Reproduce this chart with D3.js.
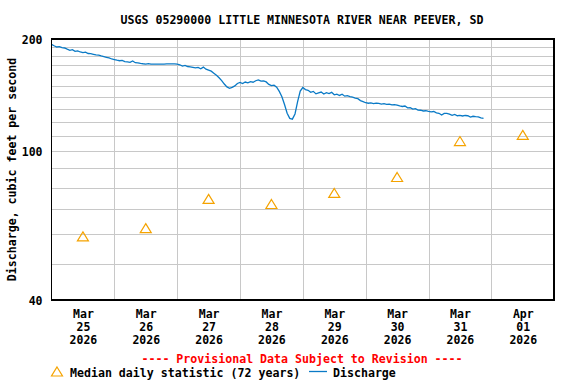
<!DOCTYPE html>
<html>
<head>
<meta charset="utf-8">
<script src="https://cdn.jsdelivr.net/npm/d3@7"></script>
<style>
  html, body { margin: 0; padding: 0; background: #fff; }
  svg { display: block; }
  text { font-family: "DejaVu Sans Mono", "Liberation Mono", monospace; font-weight: bold; }
</style>
</head>
<body>
<svg id="chart" width="576" height="384"></svg>
<script>
// ---------------- DATA ----------------
const chartTitle = "USGS 05290000 LITTLE MINNESOTA RIVER NEAR PEEVER, SD";
const yAxisLabel = "Discharge, cubic feet per second";
const provisionalNote = "---- Provisional Data Subject to Revision ----";
const legendMedianLabel = "Median daily statistic (72 years)";
const legendDischargeLabel = "Discharge";

const dayTickDates = ["2026-03-25", "2026-03-26", "2026-03-27", "2026-03-28", "2026-03-29", "2026-03-30", "2026-03-31", "2026-04-01"];
const dayTickMonth = ["Mar", "Mar", "Mar", "Mar", "Mar", "Mar", "Mar", "Apr"];
const dayTickDay = ["25", "26", "27", "28", "29", "30", "31", "01"];
const dayTickYear = ["2026", "2026", "2026", "2026", "2026", "2026", "2026", "2026"];

const yTickValues = [40, 100, 200];
const yGridValues = [50, 60, 70, 80, 90, 100, 110, 120, 130, 140, 150, 160, 170, 180, 190];

// Median daily statistic (plotted at noon of each day)
const medianDates = ["2026-03-25", "2026-03-26", "2026-03-27", "2026-03-28", "2026-03-29", "2026-03-30", "2026-03-31", "2026-04-01"];
const medianValues = [59.2, 62.3, 74.6, 72.3, 77.4, 85.4, 106.6, 110.7];

// Discharge, hourly readings starting 2026-03-25 00:00
const dischargeStart = "2026-03-25T00:00:00Z";
const dischargeValues = [
  // Mar 25
  193.5, 191.8, 190.4, 190.9, 189.6, 189.2, 187.8, 186.5, 187.3, 185.4, 185.9, 184.6,
  183.8, 184.4, 182.9, 182.7, 182.0, 181.3, 181.0, 180.2, 179.5, 178.7, 177.9, 176.8,
  // Mar 26
  176.2, 175.5, 174.9, 175.3, 174.0, 173.6, 173.2, 174.6, 172.8, 172.7, 172.1, 171.7,
  171.4, 171.9, 171.4, 171.4, 171.4, 171.4, 171.4, 171.4, 171.5, 171.5, 171.5, 171.6,
  // Mar 27
  171.4, 170.6, 169.2, 169.9, 168.8, 168.5, 167.9, 167.3, 167.8, 166.5, 168.2, 166.0,
  165.0, 164.0, 162.0, 160.0, 157.5, 154.8, 151.5, 148.8, 147.6, 148.4, 149.8, 152.0,
  // Mar 28
  153.0, 152.0, 153.4, 152.6, 153.8, 153.2, 154.6, 155.4, 154.2, 154.5, 153.5, 151.2,
  150.0, 150.4, 148.6, 144.8, 140.0, 133.5, 126.5, 122.6, 122.0, 126.0, 136.0, 145.0,
  // Mar 29
  148.3, 146.4, 145.8, 144.0, 144.8, 142.6, 143.4, 144.2, 142.5, 143.6, 142.8, 143.9,
  141.8, 142.4, 141.2, 142.3, 140.6, 141.0, 140.2, 139.8, 139.0, 138.4, 136.8, 136.0,
  // Mar 30
  135.0, 134.6, 134.9, 134.3, 134.7, 134.4, 133.9, 134.2, 133.6, 133.8, 133.2, 133.5,
  133.0, 132.4, 131.9, 132.3, 130.8, 131.0, 129.8, 130.2, 129.0, 128.9, 128.3, 128.5,
  // Mar 31
  128.0, 127.6, 127.9, 126.8, 126.5, 125.2, 126.4, 126.5, 125.8, 124.9, 125.6, 124.6,
  124.9, 124.4, 124.8, 124.6, 123.6, 124.2, 123.9, 123.8, 123.0, 122.6
];

// ---------------- CHART ----------------
const plot = { left: 51.5, right: 554.2, top: 39, bottom: 300 };

const colDischarge = "#0a7ac6";
const colMedian = "#f5a300";
const colGrid = "#c8c8c8";

const svg = d3.select("#chart");

const x = d3.scaleUtc()
  .domain([new Date("2026-03-25T00:00:00Z"), new Date("2026-04-02T00:00:00Z")])
  .range([plot.left, plot.right]);
const y = d3.scaleLog()
  .domain([40, 200])
  .range([plot.bottom, plot.top]);

// triangle outline (bbox-centred, 11 wide x 9 tall)
function triPath(w, h) {
  return `M0,${-h / 2}L${w / 2},${h / 2}L${-w / 2},${h / 2}Z`;
}

// grid
const gridG = svg.append("g").attr("shape-rendering", "crispEdges");
gridG.selectAll("line.h").data(yGridValues).join("line")
  .attr("x1", plot.left).attr("x2", plot.right)
  .attr("y1", d => Math.round(y(d)) + 0.5).attr("y2", d => Math.round(y(d)) + 0.5)
  .attr("stroke", colGrid).attr("stroke-width", 1.3);
const dayBounds = dayTickDates.slice(1).map(d => new Date(d + "T00:00:00Z"));
gridG.selectAll("line.v").data(dayBounds).join("line")
  .attr("x1", d => Math.round(x(d)) + 0.5).attr("x2", d => Math.round(x(d)) + 0.5)
  .attr("y1", plot.top).attr("y2", plot.bottom)
  .attr("stroke", colGrid).attr("stroke-width", 1.3);

// discharge line
const t0 = new Date(dischargeStart).getTime();
const dischargeData = dischargeValues.map((v, i) => ({ t: new Date(t0 + i * 3600e3), v }));
svg.append("path")
  .datum(dischargeData)
  .attr("fill", "none")
  .attr("stroke", colDischarge)
  .attr("stroke-width", 1.3)
  .attr("stroke-linejoin", "miter")
  .attr("d", d3.line().x(d => x(d.t)).y(d => y(d.v)));

// median triangles
svg.selectAll("path.median")
  .data(medianDates.map((d, i) => ({ t: new Date(d + "T12:00:00Z"), v: medianValues[i] })))
  .join("path")
  .attr("class", "median")
  .attr("d", triPath(11, 9))
  .attr("transform", d => `translate(${x(d.t)},${y(d.v)})`)
  .attr("fill", "none")
  .attr("stroke", colMedian)
  .attr("stroke-width", 1.2);

// frame
svg.append("rect")
  .attr("x", plot.left).attr("y", plot.top)
  .attr("width", plot.right - plot.left).attr("height", plot.bottom - plot.top)
  .attr("fill", "none").attr("stroke", "#000").attr("stroke-width", 1.5)
  .attr("shape-rendering", "crispEdges");

// y axis
const yAxis = d3.axisLeft(y).tickValues(yTickValues).tickFormat(d3.format("d")).tickSize(0).tickPadding(9);
const yg = svg.append("g").attr("transform", `translate(${plot.left},0)`).call(yAxis);
yg.select(".domain").remove();
yg.selectAll("text").attr("font-size", 11.5).attr("font-family", "DejaVu Sans Mono").attr("font-weight", "bold").attr("fill", "#000").attr("dy", "0.35em");

// x axis (labels at noon)
const noonTicks = dayTickDates.map(d => new Date(d + "T12:00:00Z"));
const xAxis = d3.axisBottom(x).tickValues(noonTicks).tickSize(0).tickFormat(() => "");
const xg = svg.append("g").attr("transform", `translate(0,${plot.bottom})`).call(xAxis);
xg.select(".domain").remove();
xg.selectAll(".tick text").each(function (d, i) {
  const t = d3.select(this).attr("y", 0).attr("dy", null)
    .attr("font-size", 11.5).attr("font-family", "DejaVu Sans Mono").attr("font-weight", "bold").attr("fill", "#000");
  t.append("tspan").attr("x", 0).attr("y", 18).text(dayTickMonth[i]);
  t.append("tspan").attr("x", 0).attr("y", 31).text(dayTickDay[i]);
  t.append("tspan").attr("x", 0).attr("y", 44).text(dayTickYear[i]);
});

// title
svg.append("text").attr("x", 302).attr("y", 24).attr("text-anchor", "middle")
  .attr("font-size", 11.6).attr("fill", "#000").text(chartTitle);

// y label
svg.append("text")
  .attr("transform", `translate(15.5,${(plot.top + plot.bottom) / 2}) rotate(-90)`)
  .attr("text-anchor", "middle").attr("font-size", 11.6).attr("fill", "#000")
  .text(yAxisLabel);

// provisional note
svg.append("text").attr("x", 302).attr("y", 363).attr("text-anchor", "middle")
  .attr("font-size", 11.6).attr("fill", "#ff0000").text(provisionalNote);

// legend
const lg = svg.append("g");
lg.append("path").attr("d", triPath(11, 9))
  .attr("transform", "translate(57,371.5)")
  .attr("fill", "none").attr("stroke", colMedian).attr("stroke-width", 1.2);
lg.append("text").attr("x", 70).attr("y", 377).attr("font-size", 11.6).attr("fill", "#000").text(legendMedianLabel);
lg.append("line").attr("x1", 309).attr("x2", 327).attr("y1", 371.5).attr("y2", 371.5)
  .attr("stroke", colDischarge).attr("stroke-width", 1.3);
lg.append("text").attr("x", 333).attr("y", 377).attr("font-size", 11.6).attr("fill", "#000").text(legendDischargeLabel);
</script>
</body>
</html>
